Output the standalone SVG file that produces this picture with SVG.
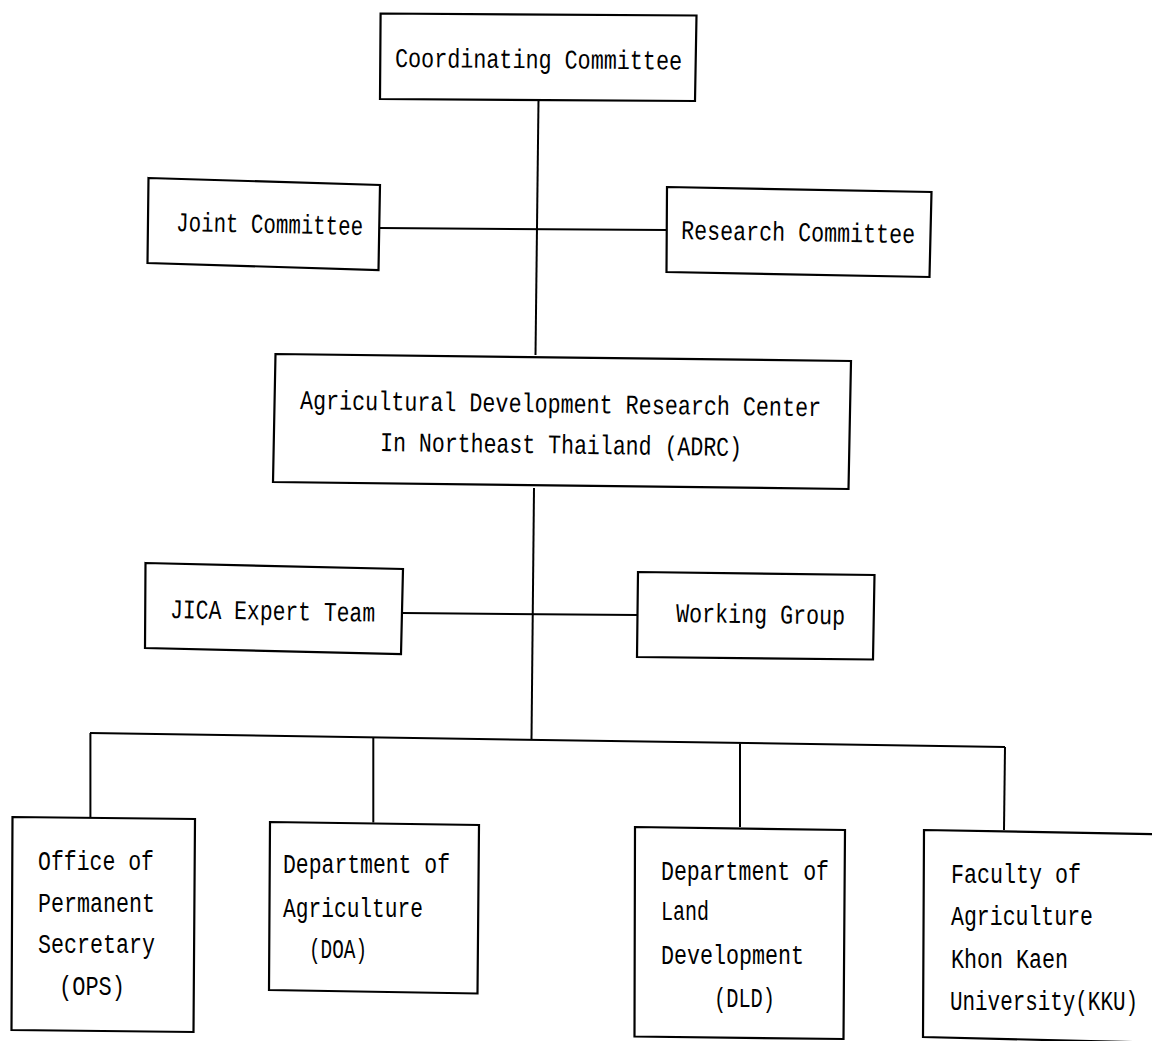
<svg xmlns="http://www.w3.org/2000/svg" width="1152" height="1041" viewBox="0 0 1152 1041">
<style>
.box{fill:#fff;stroke:#000;stroke-width:2.2;stroke-linejoin:miter}
.ln{fill:none;stroke:#000;stroke-width:2}
text{font-family:"Liberation Mono","DejaVu Sans Mono",monospace;font-size:27px;fill:#000}
</style>
<rect width="1152" height="1041" fill="#fff"/>
<g id="connectors">
<path class="ln" d="M538.5,100 L535.5,355"/>
<path class="ln" d="M380,228 L667,230"/>
<path class="ln" d="M534,488 L531.5,740"/>
<path class="ln" d="M403,613 L638,615"/>
<path class="ln" d="M90,733 L1005,747"/>
<path class="ln" d="M90.4,733 L90.4,817"/>
<path class="ln" d="M373.3,738 L373.3,822.5"/>
<path class="ln" d="M740,743.5 L740,827"/>
<path class="ln" d="M1005,747 L1004,830"/>
</g>
<g id="coordinating">
<path class="box" d="M380.6,13.5 L696.5,15.5 L695,101 L380,99 Z"/>
<text x="395" y="67" textLength="287" lengthAdjust="spacingAndGlyphs" transform="rotate(0.5 395 67)">Coordinating Committee</text>
</g>
<g id="joint">
<path class="box" d="M148.5,178 L380,185 L378.5,270 L147.5,263 Z"/>
<text x="176" y="231" textLength="187" lengthAdjust="spacingAndGlyphs" transform="rotate(1.2 176 231)">Joint Committee</text>
</g>
<g id="research">
<path class="box" d="M667,187 L931.5,192 L929.5,277 L666.5,272 Z"/>
<text x="681" y="239" textLength="234" lengthAdjust="spacingAndGlyphs" transform="rotate(1 681 239)">Research Committee</text>
</g>
<g id="adrc">
<path class="box" d="M275.5,354 L851,361 L848.5,489 L273,482 Z"/>
<text x="300" y="409" textLength="521" lengthAdjust="spacingAndGlyphs" transform="rotate(0.8 300 409)">Agricultural Development Research Center</text>
<text x="380" y="451" textLength="362" lengthAdjust="spacingAndGlyphs" transform="rotate(0.8 380 451)">In Northeast Thailand (ADRC)</text>
</g>
<g id="jica">
<path class="box" d="M145.5,563 L403,569 L401,654 L145,648 Z"/>
<text x="170" y="618" textLength="205" lengthAdjust="spacingAndGlyphs" transform="rotate(1 170 618)">JICA Expert Team</text>
</g>
<g id="working">
<path class="box" d="M638,572 L874.5,575 L873,659.5 L637,657 Z"/>
<text x="676" y="622" textLength="169" lengthAdjust="spacingAndGlyphs" transform="rotate(0.8 676 622)">Working Group</text>
</g>
<g id="ops">
<path class="box" d="M12.5,817 L195,819 L193.5,1032 L11.5,1030 Z"/>
<text x="38" y="870" textLength="116" lengthAdjust="spacingAndGlyphs">Office of</text>
<text x="38" y="912" textLength="117" lengthAdjust="spacingAndGlyphs">Permanent</text>
<text x="38" y="953" textLength="117" lengthAdjust="spacingAndGlyphs">Secretary</text>
<text x="59" y="995" textLength="66" lengthAdjust="spacingAndGlyphs">(OPS)</text>
</g>
<g id="doa">
<path class="box" d="M270,822 L479,825 L477.5,993.5 L269,990 Z"/>
<text x="283" y="873" textLength="167" lengthAdjust="spacingAndGlyphs">Department of</text>
<text x="283" y="917" textLength="140" lengthAdjust="spacingAndGlyphs">Agriculture</text>
<text x="309" y="958" textLength="58" lengthAdjust="spacingAndGlyphs">(DOA)</text>
</g>
<g id="dld">
<path class="box" d="M635,827 L845,830 L843.5,1039 L634.5,1036.5 Z"/>
<text x="661" y="880" textLength="168" lengthAdjust="spacingAndGlyphs">Department of</text>
<text x="661" y="920" textLength="48" lengthAdjust="spacingAndGlyphs">Land</text>
<text x="661" y="964" textLength="143" lengthAdjust="spacingAndGlyphs">Development</text>
<text x="714" y="1007" textLength="61" lengthAdjust="spacingAndGlyphs">(DLD)</text>
</g>
<g id="kku">
<path class="box" d="M924,830 L1170,834.5 L1170,1043 L923,1037 Z"/>
<text x="951" y="883" textLength="130" lengthAdjust="spacingAndGlyphs">Faculty of</text>
<text x="951" y="925" textLength="142" lengthAdjust="spacingAndGlyphs">Agriculture</text>
<text x="951" y="968" textLength="117" lengthAdjust="spacingAndGlyphs">Khon Kaen</text>
<text x="950" y="1010" textLength="188" lengthAdjust="spacingAndGlyphs">University(KKU)</text>
</g>
</svg>
